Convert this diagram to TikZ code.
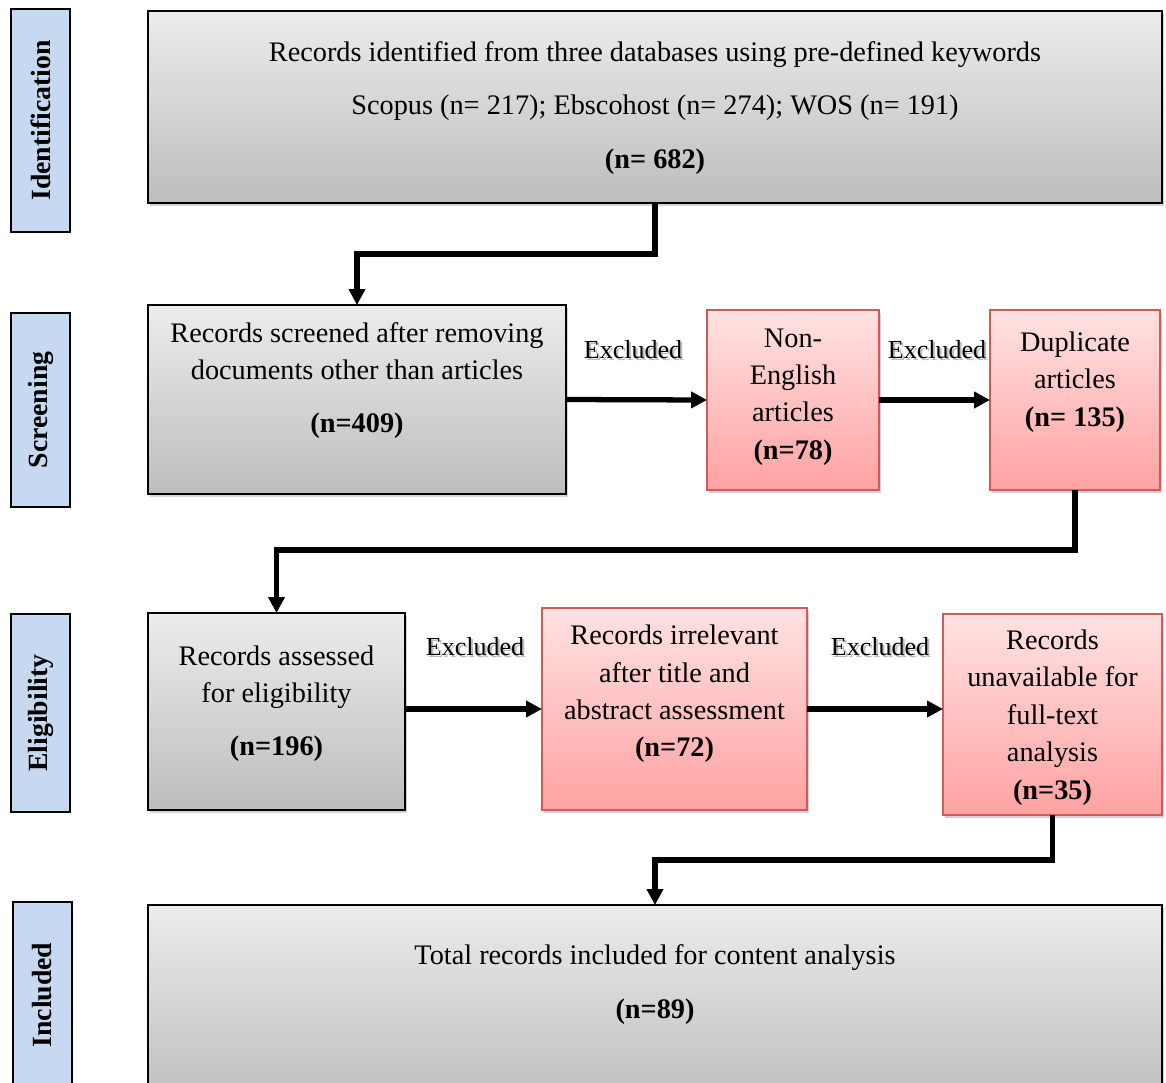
\documentclass[tikz,border=0pt]{standalone}
\usepackage{fontspec}
\setmainfont{Liberation Serif}
\usetikzlibrary{arrows.meta,shadows}
\newdimen\pxu \pxu=0.02cm
\definecolor{gtop}{HTML}{ECECEC}
\definecolor{gbot}{HTML}{BDBDBD}
\definecolor{ptop}{HTML}{FFE2E2}
\definecolor{pbot}{HTML}{FFA2A2}
\definecolor{pline}{HTML}{D05A58}
\definecolor{sidefill}{HTML}{C6D9F1}
\tikzset{
  graybox/.style={rectangle, draw=black, line width=0.9pt, top color=gtop, bottom color=gbot,
    inner sep=0pt, outer sep=0pt, drop shadow={opacity=0.35, shadow xshift=1.4pt, shadow yshift=-1.7pt}},
  pinkbox/.style={rectangle, draw=pline, line width=0.9pt, top color=ptop, bottom color=pbot,
    inner sep=0pt, outer sep=0pt, drop shadow={opacity=0.35, shadow xshift=1.4pt, shadow yshift=-1.7pt}},
  sidebox/.style={rectangle, draw=black, line width=1.4pt, fill=sidefill, inner sep=0pt, outer sep=0pt,
    minimum width=59\pxu},
  sidetext/.style={rotate=90, font=\fontsize{15.8}{18}\selectfont\bfseries, inner sep=0pt},
  txt/.style={font=\fontsize{16.1}{19}\selectfont, inner sep=0pt, anchor=base, yshift=-1.1pt},
  btxt/.style={font=\fontsize{16.1}{19}\selectfont\bfseries, inner sep=0pt, anchor=base, yshift=-1.1pt},
  extxt/.style={font=\fontsize{14.8}{18}\selectfont, inner sep=0pt, anchor=base},
  exshadow/.style={font=\fontsize{14.8}{18}\selectfont, inner sep=0pt, anchor=base, text=black!45, opacity=0.6},
  arr/.style={line width=3pt, -{Triangle[length=9pt,width=9pt]}},
}
\begin{document}
\begin{tikzpicture}[x=0.02cm, y=-0.02cm]
\useasboundingbox (0,0) rectangle (1166,1082);
% side labels
\node[sidebox, minimum height=223\pxu] (sid1) at (40.5,120.5) {};
\node[sidetext] (sidt1) at (40.5,120.5) {Identification};
\node[sidebox, minimum height=194\pxu] (sid2) at (40.5,410) {};
\node[sidetext] (sidt2) at (40.5,410) {Screening};
\node[sidebox, minimum height=198\pxu] (sid3) at (40.5,713) {};
\node[sidetext] (sidt3) at (40.5,713) {Eligibility};
\node[sidebox, minimum height=200\pxu] (sid4) at (42.5,1002) {};
\node[sidetext] (sidt4) at (42.5,995) {Included};
% boxes
\node[graybox, minimum width=1014\pxu, minimum height=192\pxu] (b1) at (655,107) {};
\node[graybox, minimum width=418\pxu, minimum height=189\pxu] (scr) at (357,399.5) {};
\node[pinkbox, minimum width=172\pxu, minimum height=180\pxu] (ne) at (793,400) {};
\node[pinkbox, minimum width=170\pxu, minimum height=180\pxu] (dup) at (1075,400) {};
\node[graybox, minimum width=257\pxu, minimum height=197\pxu] (elig) at (276.5,711.5) {};
\node[pinkbox, minimum width=265\pxu, minimum height=202\pxu] (irr) at (674.5,709) {};
\node[pinkbox, minimum width=219\pxu, minimum height=201\pxu] (unav) at (1052.5,714.5) {};
\node[graybox, minimum width=1014\pxu, minimum height=200\pxu] (tot) at (655,1005) {};
% texts box1
\node[txt] (t1a) at (655,60) {Records identified from three databases using pre-defined keywords};
\node[txt] (t1b) at (655,113) {Scopus (n= 217); Ebscohost (n= 274); WOS (n= 191)};
\node[btxt] (t1c) at (655,167) {(n= 682)};
% screening
\node[txt] (t2a) at (357,341) {Records screened after removing};
\node[txt] (t2b) at (357,378) {documents other than articles};
\node[btxt] (t2c) at (357,431) {(n=409)};
\node[txt] (t3a) at (793,346) {Non-};
\node[txt] (t3b) at (793,383) {English};
\node[txt] (t3c) at (793,420) {articles};
\node[btxt] (t3d) at (793,458) {(n=78)};
\node[txt] (t4a) at (1075,350) {Duplicate};
\node[txt] (t4b) at (1075,387) {articles};
\node[btxt] (t4c) at (1075,425) {(n= 135)};
% eligibility
\node[txt] (t5a) at (276.5,664) {Records assessed};
\node[txt] (t5b) at (276.5,701) {for eligibility};
\node[btxt] (t5c) at (276.5,754) {(n=196)};
\node[txt] (t6a) at (674.5,643) {Records irrelevant};
\node[txt] (t6b) at (674.5,681) {after title and};
\node[txt] (t6c) at (674.5,718) {abstract assessment};
\node[btxt] (t6d) at (674.5,755) {(n=72)};
\node[txt] (t7a) at (1052.5,648) {Records};
\node[txt] (t7b) at (1052.5,685) {unavailable for};
\node[txt] (t7c) at (1052.5,723) {full-text};
\node[txt] (t7d) at (1052.5,760) {analysis};
\node[btxt] (t7e) at (1052.5,798) {(n=35)};
% included
\node[txt] (t8a) at (655,963) {Total records included for content analysis};
\node[btxt] (t8b) at (655,1017) {(n=89)};
% excluded labels
\node[exshadow] (ex1s) at (635,360) {Excluded};
\node[extxt] (ex1) at (633,358) {Excluded};
\node[exshadow] (ex2s) at (939,360) {Excluded};
\node[extxt] (ex2) at (937,358) {Excluded};
\node[exshadow] (ex3s) at (477,657) {Excluded};
\node[extxt] (ex3) at (475,655) {Excluded};
\node[exshadow] (ex4s) at (882,657) {Excluded};
\node[extxt] (ex4) at (880,655) {Excluded};
% connectors
\coordinate (k1) at (0,254);
\coordinate (k2) at (0,550);
\coordinate (k3) at (0,860);
\draw[arr] (b1.south) -- (b1.south |- k1) -| (scr.north);
\draw[arr] (scr.east) -- (ne.west);
\draw[arr] (ne.east) -- (dup.west);
\draw[arr] (dup.south) -- (dup.south |- k2) -| (elig.north);
\draw[arr] (elig.east |- irr.west) -- (irr.west);
\draw[arr] (irr.east) -- (irr.east -| unav.west);
\draw[arr] (unav.south) -- (unav.south |- k3) -| (tot.north);
\end{tikzpicture}
\end{document}
